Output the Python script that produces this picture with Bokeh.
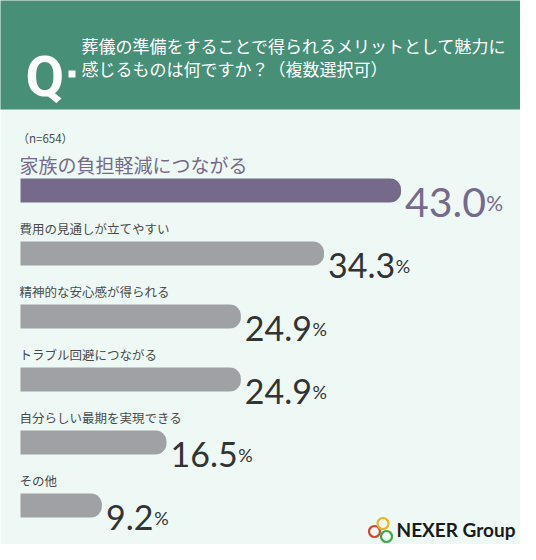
from bokeh.plotting import figure
from bokeh.models import Range1d, ColumnDataSource
from bokeh.core.properties import value
from bokeh.embed import file_html
from bokeh.resources import INLINE

# ---------------- data ----------------
title_lines = ["葬儀の準備をすることで得られるメリットとして魅力に",
               "感じるものは何ですか？（複数選択可）"]
sample_note = "（n=654）"
categories = ["家族の負担軽減につながる", "費用の見通しが立てやすい", "精神的な安心感が得られる",
              "トラブル回避につながる", "自分らしい最期を実現できる", "その他"]
percents = [43.0, 34.3, 24.9, 24.9, 16.5, 9.2]
brand = "NEXER Group"

# ---------------- layout helpers ----------------
W, H = 520, 544          # figure size (page margin 8px)
OX, OY = 0, 0            # reference offset of the figure
X0, SCALE = 20, 8.85     # px position of 0%, px per %
Y0, ROW = 190, 63        # px centre of first row, px per row

def rx(xref):
    return (xref - X0) / SCALE

def ry(yref):
    return (yref - Y0) / ROW

BG = "#eef9f5"
HEAD = "#488f78"
PURPLE = "#766a8a"
GREY = "#a0a1a5"
DARK = "#333333"
LABEL = "#4a4a4a"
JP = value("Noto Sans CJK JP")
NUM = value("Lato")

p = figure(width=W, height=H, output_backend="svg", toolbar_location=None,
           x_range=Range1d(rx(OX), rx(OX + W)),
           y_range=Range1d(ry(OY + H), ry(OY)),
           x_axis_location=None, y_axis_location=None,
           min_border=0, background_fill_color=BG, border_fill_color=BG,
           outline_line_color=None)
p.grid.visible = False

# header band
p.quad(left=[rx(-10)], right=[rx(540)], top=[ry(-10)], bottom=[ry(109)],
       fill_color=HEAD, line_color=None)
p.text(x=[rx(25)], y=[ry(76)], text=["Q"], text_font=value("Roboto"),
       text_font_style="bold", text_font_size="56px", text_color="white",
       text_baseline="alphabetic")
p.quad(left=[rx(68)], right=[rx(75)], top=[ry(70)], bottom=[ry(77)],
       fill_color="white", line_color=None)
p.text(x=[rx(81)] * 2, y=[ry(45), ry(68)], text=title_lines, text_font=JP,
       text_font_size="17px", text_color="white", text_baseline="middle")

# sample size
p.text(x=[rx(17)], y=[ry(137)], text=[sample_note], text_font=JP,
       text_font_size="11.5px", text_color=LABEL, text_baseline="middle")

# bars
idx = list(range(len(categories)))
bar_colors = [PURPLE if i == 0 else GREY for i in idx]
src = ColumnDataSource(dict(y=idx, v=percents, c=bar_colors))
p.hbar(y="y", left=0, right="v", height=24 / ROW, fill_color="c",
       line_color=None, border_radius=(0, 11, 11, 0), source=src)

# category labels
p.text(x=[0], y=[idx[0] - 26 / ROW], text=[categories[0]], text_font=JP,
       text_font_size="19px", text_color=PURPLE, text_baseline="middle", x_offset=-1)
p.text(x=[0] * (len(idx) - 1), y=[i - 25 / ROW for i in idx[1:]], text=categories[1:],
       text_font=JP, text_font_size="12.5px", text_color=LABEL,
       text_baseline="middle", x_offset=-1)

# value labels
def num_width(s, fs):
    return sum((0.23 if ch == "." else 0.567) * fs for ch in s)

NUM_OFF = 4
nums = [f"{v:.1f}" for v in percents]
num_fs = [41 if i == 0 else 34 for i in idx]
pct_fs = [21 if i == 0 else 18 for i in idx]
num_col = [PURPLE if i == 0 else DARK for i in idx]
vsrc = ColumnDataSource(dict(
    x=percents, y=[i + 12 / ROW for i in idx], t=nums,
    fs=[f"{f}px" for f in num_fs], pfs=[f"{f}px" for f in pct_fs], c=num_col,
    pct=["%"] * len(idx),
    pxo=[NUM_OFF + num_width(s, f) + 2 for s, f in zip(nums, num_fs)]))
p.text(x="x", y="y", text="t", text_font=NUM, text_font_size="fs",
       text_color="c", text_baseline="alphabetic", x_offset=NUM_OFF, source=vsrc)
p.text(x="x", y="y", text="pct", text_font=NUM, text_font_size="pfs",
       text_color="c", text_baseline="alphabetic", x_offset="pxo", source=vsrc)

# brand logo
p.scatter(x=[rx(374), rx(382.5), rx(386)], y=[ry(531), ry(523), ry(536)],
          marker="circle", size=11, fill_color=None, line_width=2.2,
          line_color=["#d9432f", "#eeb51c", "#3da84a"])
p.text(x=[rx(396)], y=[ry(529)], text=[brand], text_font=value("Lato"),
       text_font_style="bold", text_font_size="19px", text_color="#1a1a1a",
       text_baseline="middle")

open("out.html", "w").write(file_html(p, INLINE))
